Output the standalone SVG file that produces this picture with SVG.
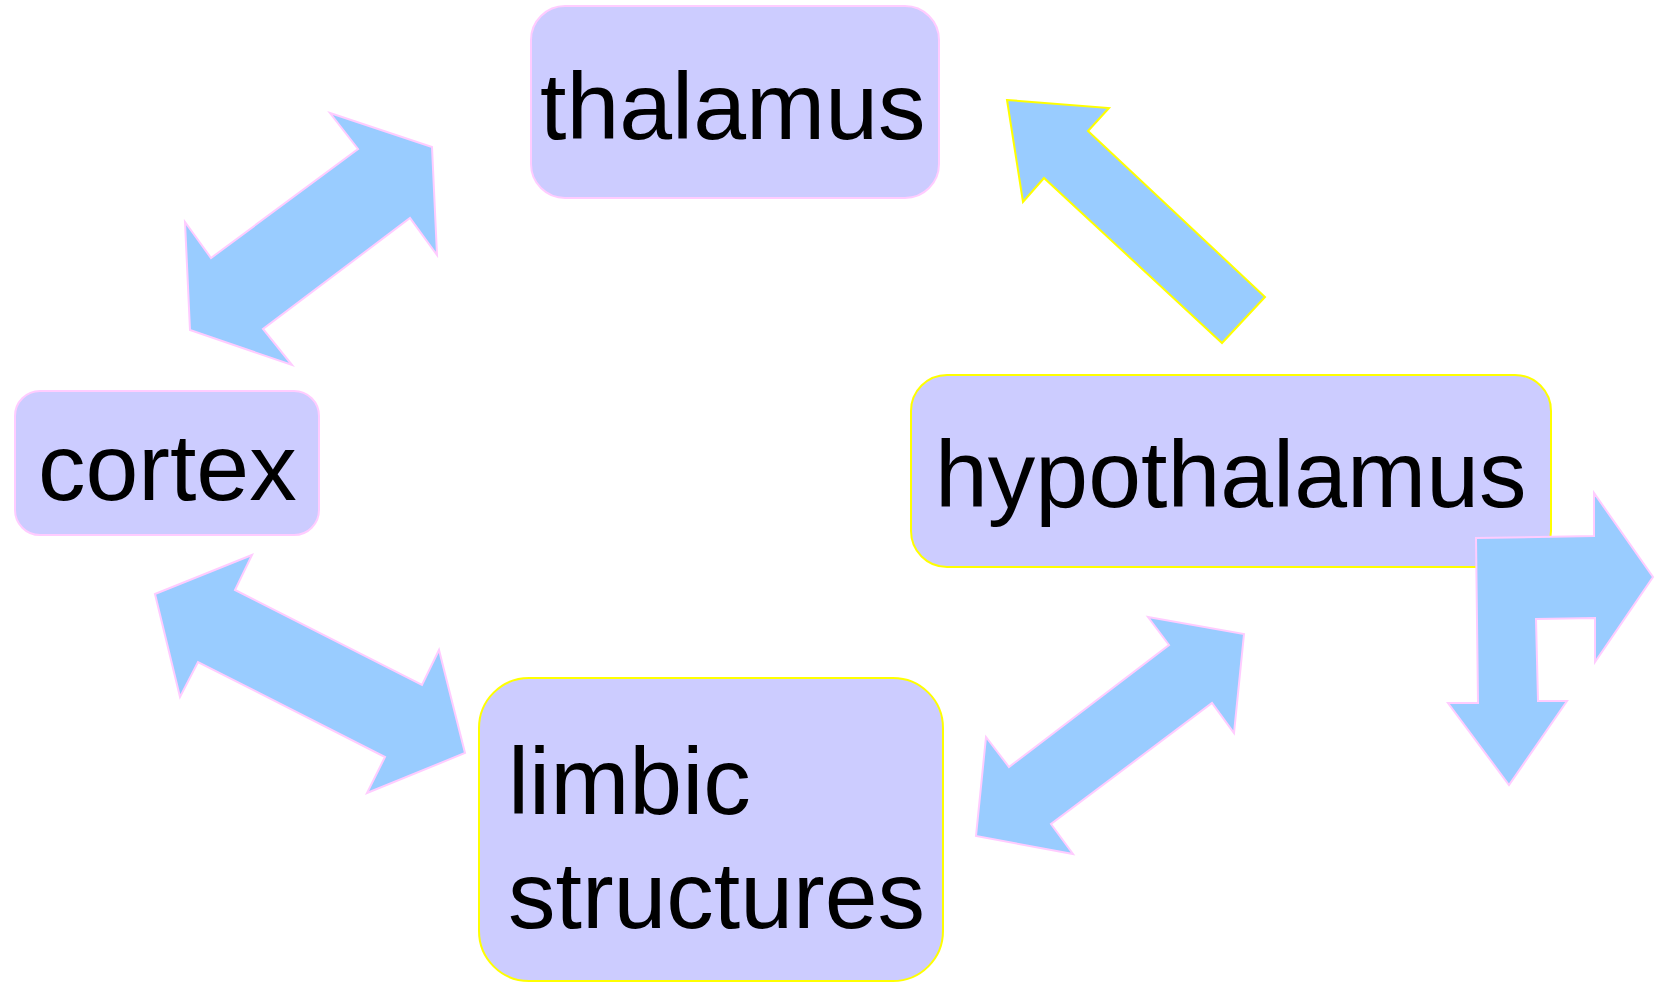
<svg xmlns="http://www.w3.org/2000/svg" width="1655" height="983" viewBox="0 0 1655 983">
<style>
.box{fill:#ccccff;stroke-width:2}
.pk{stroke:#ffccff}
.yl{stroke:#ffff00}
.arr{fill:#99ccff;stroke-width:2;stroke-linejoin:miter}
.lbl{font-family:"Liberation Sans",Arial,sans-serif;font-size:95px;fill:#000}
</style>
<rect width="1655" height="983" fill="#ffffff"/>
<g id="thalamus">
<rect class="box pk" x="531" y="6" width="408" height="192" rx="34" ry="34"/>
<text class="lbl" x="540" y="139">thalamus</text>
</g>
<g id="cortex">
<rect class="box pk" x="15" y="391" width="304" height="144" rx="25" ry="25"/>
<text class="lbl" x="38" y="500">cortex</text>
</g>
<g id="hypothalamus">
<rect class="box yl" x="911" y="375" width="640" height="192" rx="36" ry="36"/>
<text class="lbl" x="935" y="507">hypothalamus</text>
</g>
<g id="limbic">
<rect class="box yl" x="479" y="678" width="464" height="303" rx="50" ry="50"/>
<text class="lbl" x="508" y="814">limbic</text>
<text class="lbl" x="508" y="928">structures</text>
</g>
<g id="connectors">
<polygon class="arr pk" points="330,113 432,147 437,255 410,218 263,329 292,365 190,330 185,222 211,258 358,149"/>
<polygon class="arr yl" points="1007,100 1109,108 1088,131 1265,297 1222,343 1044,178 1023,202"/>
<polygon class="arr pk" points="155,594 252,555 235,590 422,685 439,650 465,753 367,793 385,757 198,662 180,697"/>
<polygon class="arr pk" points="1148,617 1244,634 1234,733 1212,703 1051,824 1073,854 976,836 986,737 1009,767 1169,645"/>
<polygon class="arr pk" points="1476,538 1594,536 1594,493 1653,577 1595,662 1595,618 1536,619 1538,701 1567,701 1509,785 1448,703 1478,703"/>
</g>
</svg>
